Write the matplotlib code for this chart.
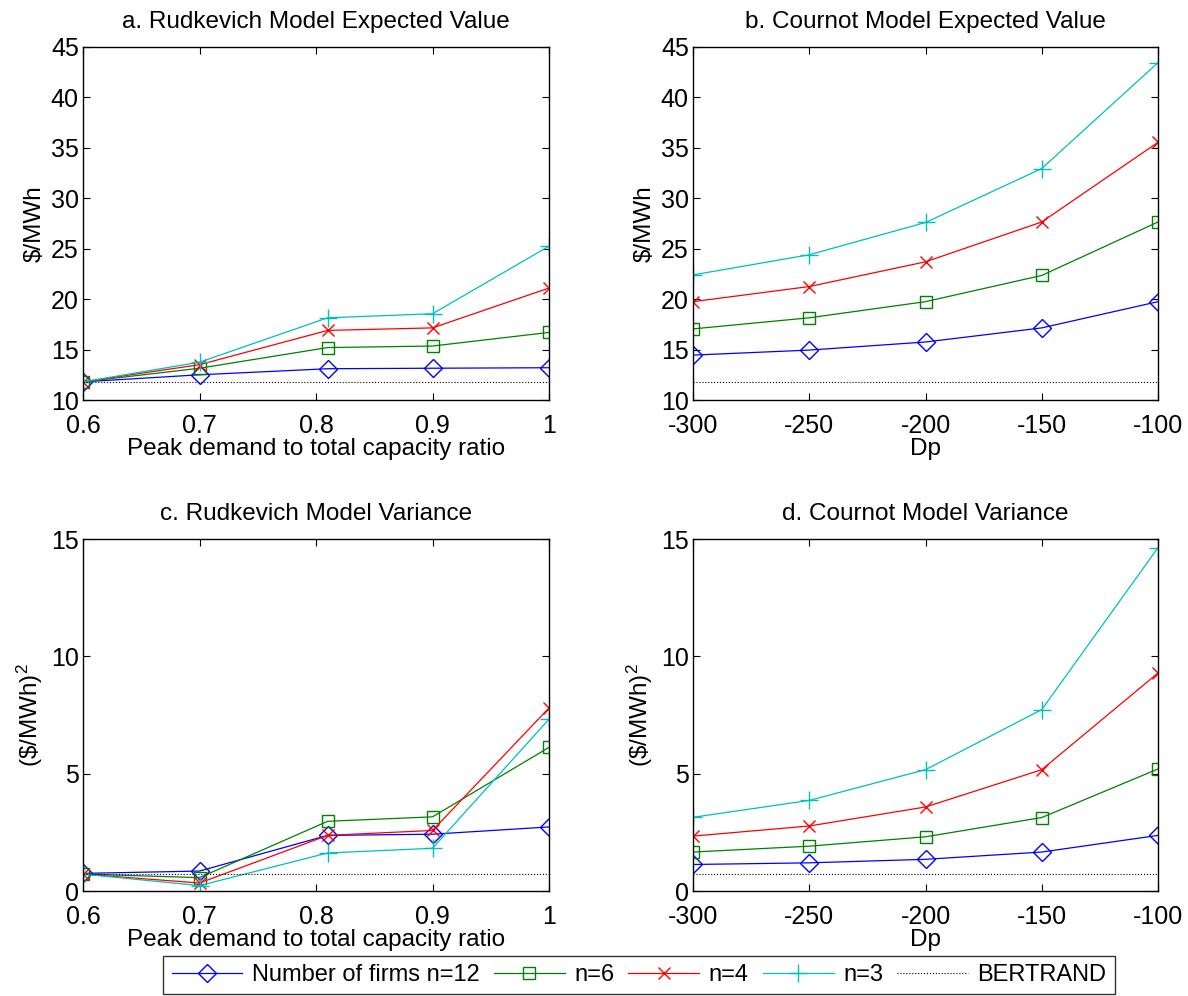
import matplotlib
matplotlib.use("Agg")
import matplotlib.pyplot as plt
from matplotlib.lines import Line2D

plt.rcParams['font.family'] = ['Liberation Sans', 'DejaVu Sans']
plt.rcParams['mathtext.fontset'] = 'custom'
plt.rcParams['mathtext.rm'] = 'Liberation Sans'
plt.rcParams['mathtext.it'] = 'Liberation Sans'
plt.rcParams['axes.unicode_minus'] = False

# ---- data ----
ratio = [0.6, 0.7, 0.81, 0.9, 1.0]
dp = [-300, -250, -200, -150, -100]

a_n12 = [11.8, 12.5, 13.1, 13.15, 13.2]
a_n6 = [11.8, 13.15, 15.2, 15.35, 16.7]
a_n4 = [11.8, 13.5, 16.9, 17.15, 21.1]
a_n3 = [11.8, 13.75, 18.15, 18.55, 25.25]
a_bertrand = 11.75

b_n12 = [14.45, 14.95, 15.75, 17.15, 19.75]
b_n6 = [17.05, 18.15, 19.75, 22.35, 27.65]
b_n4 = [19.75, 21.25, 23.7, 27.65, 35.55]
b_n3 = [22.4, 24.4, 27.6, 32.95, 43.45]
b_bertrand = 11.75

c_n12 = [0.75, 0.85, 2.37, 2.42, 2.73]
c_n6 = [0.72, 0.57, 2.97, 3.16, 6.12]
c_n4 = [0.72, 0.34, 2.37, 2.58, 7.8]
c_n3 = [0.72, 0.23, 1.62, 1.82, 7.32]
c_bertrand = 0.73

d_n12 = [1.13, 1.2, 1.35, 1.66, 2.37]
d_n6 = [1.66, 1.91, 2.31, 3.13, 5.2]
d_n4 = [2.34, 2.77, 3.58, 5.17, 9.29]
d_n3 = [3.14, 3.86, 5.17, 7.73, 14.63]
d_bertrand = 0.72

titles = ["a. Rudkevich Model Expected Value", "b. Cournot Model Expected Value",
          "c. Rudkevich Model Variance", "d. Cournot Model Variance"]
legend_labels = ["Number of firms n=12", "n=6", "n=4", "n=3", "BERTRAND"]
ratio_ticks = [0.6, 0.7, 0.8, 0.9, 1.0]
ratio_ticklabels = ["0.6", "0.7", "0.8", "0.9", "1"]
dp_ticks = [-300, -250, -200, -150, -100]

# ---- styles ----
W, H = 1188, 996
fig = plt.figure(figsize=(W / 100, H / 100), dpi=100)

def px_axes(l, t, r, b):
    return fig.add_axes([l / W, 1 - b / H, (r - l) / W, (b - t) / H])

styles = [
    dict(color=(0, 0, 1), marker='D', ms=9, mfc='none', mew=1.0),
    dict(color=(0, 0.5, 0), marker='s', ms=9, mfc='none', mew=1.0),
    dict(color=(1, 0, 0), marker='x', ms=9, mew=1.0),
    dict(color=(0, 0.75, 0.75), marker='+', ms=13, mew=1.0),
]
bert_style = dict(color='black', ls=':', lw=0.8)

TFS = 17.5   # titles / labels
KFS = 18     # tick labels
LFS = 17     # legend

panels = [
    (px_axes(83, 47, 549, 400), ratio, [a_n12, a_n6, a_n4, a_n3], a_bertrand, (10, 45)),
    (px_axes(693, 47, 1158, 400), dp, [b_n12, b_n6, b_n4, b_n3], b_bertrand, (10, 45)),
    (px_axes(83, 539, 549, 891), ratio, [c_n12, c_n6, c_n4, c_n3], c_bertrand, (0, 15)),
    (px_axes(693, 539, 1158, 891), dp, [d_n12, d_n6, d_n4, d_n3], d_bertrand, (0, 15)),
]

for i, (ax, x, series, bert, ylim) in enumerate(panels):
    for s, st in zip(series, styles):
        ax.plot(x, s, lw=0.9, **st)
    ax.plot([x[0], x[-1]], [bert, bert], **bert_style)
    ax.set_xlim(x[0], x[-1])
    ax.set_ylim(*ylim)
    if x is ratio:
        ax.set_xticks(ratio_ticks)
        ax.set_xticklabels(ratio_ticklabels)
        ax.set_xlabel("Peak demand to total capacity ratio", fontsize=TFS, labelpad=0)
    else:
        ax.set_xticks(dp_ticks)
        ax.set_xlabel("Dp", fontsize=TFS, labelpad=0)
    ax.set_yticks(range(ylim[0], ylim[1] + 1, 5))
    if i < 2:
        ax.set_ylabel("\\$/MWh", fontsize=TFS, labelpad=4)
    else:
        ax.set_ylabel("(\\$/MWh)$^2$", fontsize=TFS, labelpad=4)
    ax.set_title(titles[i], fontsize=TFS, pad=14)
    ax.tick_params(direction='in', top=True, right=True, labelsize=KFS, length=5,
                   width=0.8)
    ax.tick_params(axis='x', pad=10)
    ax.tick_params(axis='y', pad=3)
    for sp in ax.spines.values():
        sp.set_linewidth(1.0)

handles = [Line2D([], [], lw=0.9, **st) for st in styles] + [Line2D([], [], **bert_style)]
leg = fig.legend(handles, legend_labels, loc='center', ncol=5,
                 bbox_to_anchor=(639 / W, 1 - 975 / H), fontsize=LFS,
                 frameon=True, fancybox=False, edgecolor='black',
                 handlelength=3.0, handletextpad=0.4, columnspacing=0.6,
                 borderpad=0.35, borderaxespad=0)
leg.get_frame().set_linewidth(1.0)

fig.savefig("out.png", dpi=100)
